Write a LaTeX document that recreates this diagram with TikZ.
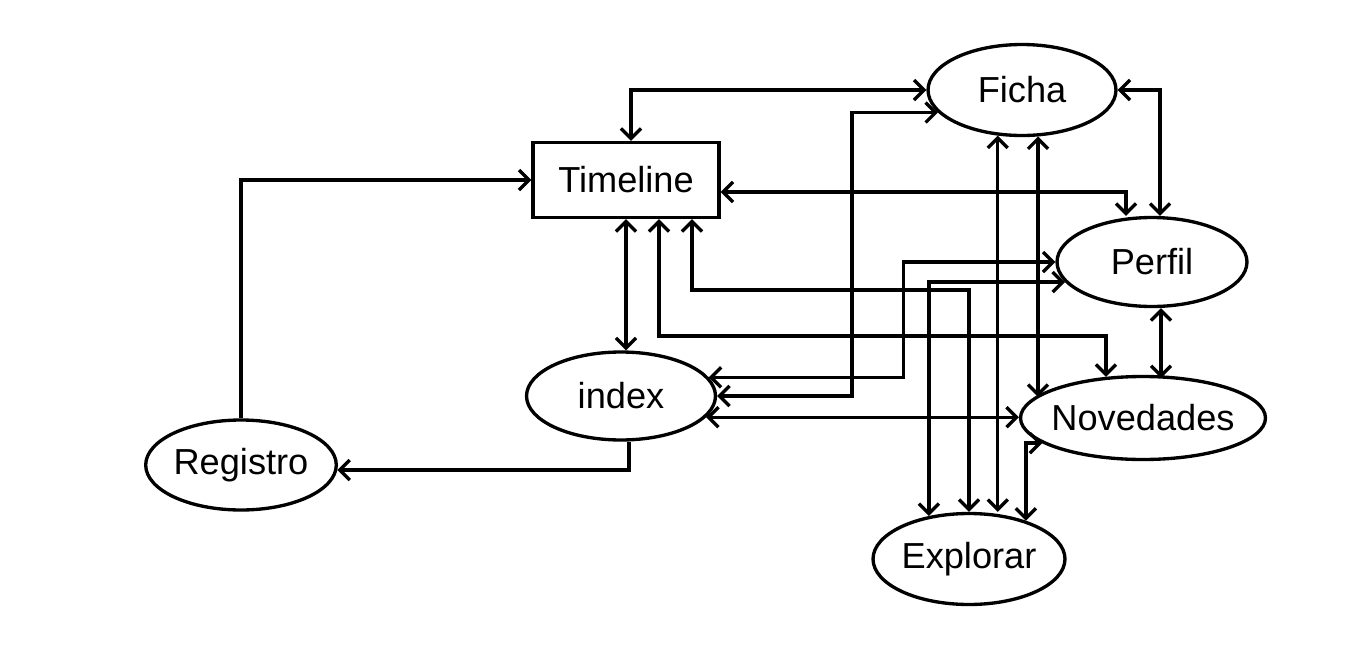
\documentclass[tikz,border=0pt]{standalone}
\usepackage{fontspec}
\setmainfont{Liberation Sans}
\usetikzlibrary{arrows.meta,calc,shapes.geometric}

\begin{document}
\begin{tikzpicture}[x=0.02cm,y=-0.02cm,line width=1.9pt,
        page/.style={draw,ellipse,inner sep=0pt,font=\fontsize{20.6}{24}\selectfont},
        mainbox/.style={draw,rectangle,inner sep=0pt,font=\fontsize{20.6}{24}\selectfont},
        link/.style={{Straight Barb[length=0.2cm,width=0.4cm]}-{Straight Barb[length=0.2cm,width=0.4cm]}},
        arr/.style={-{Straight Barb[length=0.2cm,width=0.4cm]}}]
        \useasboundingbox (0,0) rectangle (1366,670);
        \node[mainbox,minimum width=3.72cm,minimum height=1.5cm] (tl) at (626,180) {Timeline};
        \node[page,minimum width=3.76cm,minimum height=1.82cm] (fi) at (1022,90) {Ficha};
        \node[page,minimum width=3.8cm,minimum height=1.78cm] (pf) at (1152,262) {Perfil};
        \node[page,minimum width=3.78cm,minimum height=1.76cm] (ix) at (621,396) {index};
        \node[page,minimum width=4.9cm,minimum height=1.66cm,inner xsep=-1.2mm] (nv) at (1143,418) {Novedades};
        \node[page,minimum width=3.8cm,minimum height=1.8cm] (rg) at (241,465) {Registro};
        \node[page,minimum width=3.84cm,minimum height=1.82cm] (ex) at (969,559) {Explorar};
        \draw[link] ($(tl.north)+(5,0)$) |- (fi.west);
        \draw[arr] (rg.north) |- (tl.west);
        \draw[arr] ($(ix.south)+(8,0)$) |- (rg.357);
        \draw[link] (tl.south) -- (ix.north -| tl.south);
        \draw[link] ($(tl.south)+(33,0)$) -- ++(0,117) -| (nv.132);
        \draw[link] ($(tl.south)+(66,0)$) -- ++(0,71) -| (ex.north);
        \draw[link] ($(tl.east)+(0,12)$) -| ($(pf.north)+(-26,0)$);
        \draw[link] (ix.east) -- ++(135,0) |- (fi.195);
        \draw[link] (ix.12) -- ++(195,0) |- (pf.west);
        \draw[link] (ix.346) -- (ix.346 -| nv.west);
        \draw[link] (fi.east) -| ($(pf.north)+(8,0)$);
        \draw[link] (fi.242) -- (fi.242 |- ex.north);
        \draw[link] (fi.289) -- (fi.289 |- nv.169);
        \draw[link] ($(pf.south)+(9,0)$) -- ++(0,70);
        \draw[link] (pf.193) -| (ex.133);
        \draw[link] (ex.34) |- (nv.194);
\end{tikzpicture}
\end{document}
